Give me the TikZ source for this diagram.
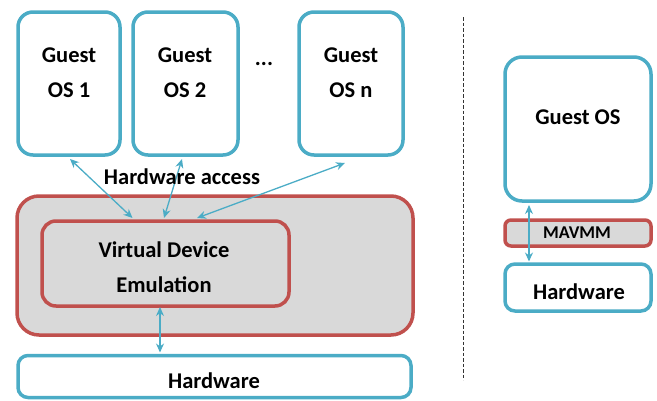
\documentclass[tikz,border=0pt]{standalone}
\usepackage{fontspec}
\setmainfont{Carlito}
\usetikzlibrary{arrows.meta,calc}
\definecolor{cblue}{HTML}{4BACC6}
\definecolor{cred}{HTML}{C0504D}
\definecolor{cgrey}{HTML}{D9D9D9}
\tikzset{
  bluebox/.style={draw=cblue,line width=3.5pt,fill=white,inner sep=0pt,outer sep=0pt},
  redbox/.style={draw=cred,line width=3.5pt,fill=cgrey,inner sep=0pt,outer sep=0pt},
  lbl/.style={font=\bfseries\fontsize{22.5}{35}\selectfont,align=center,inner sep=0pt},
  smalllbl/.style={font=\bfseries\fontsize{18}{20}\selectfont,inner sep=0pt},
  conn/.style={draw=cblue,line width=1.3pt,{Stealth[length=9pt,width=8pt]}-{Stealth[length=9pt,width=8pt]}},
}
\begin{document}
\begin{tikzpicture}[x=1pt,y=-1pt]
\useasboundingbox (0,0) rectangle (657,400);
% left side
\node[bluebox,rounded corners=15pt,minimum width=102pt,minimum height=143pt] (g1) at (69,83.5) {};
\node[bluebox,rounded corners=15pt,minimum width=105pt,minimum height=143pt] (g2) at (185.5,83.5) {};
\node[bluebox,rounded corners=15pt,minimum width=104pt,minimum height=143pt] (gn) at (351,83.5) {};
\node[lbl] (t1) at (69,73) {Guest\\OS 1};
\node[lbl] (t2) at (185,73) {Guest\\OS 2};
\node[lbl] (tn) at (351,73) {Guest\\OS n};
\node[lbl] (dots) at (264,64) {...};
\node[redbox,rounded corners=22pt,minimum width=396pt,minimum height=139pt] (hyp) at (215,265.5) {};
\node[redbox,rounded corners=14pt,minimum width=247pt,minimum height=85pt] (vde) at (165.5,263.5) {};
\node[lbl] (tvde) at (164,267) {Virtual Device\\Emulation};
\node[bluebox,rounded corners=10pt,minimum width=393pt,minimum height=42pt] (hw) at (214.5,376.5) {};
\node[lbl] (thw) at (214,381) {Hardware};
\draw[conn] ($(g1.south)+(1,4)$) -- ($(vde.north)+(-33,-3)$);
\draw[conn] ($(g2.south)+(-3.5,4)$) -- ($(vde.north)+(-1.5,-3)$);
\draw[conn] ($(gn.south)+(-6,8)$) -- ($(vde.north)+(31.5,-3)$);
\draw[conn] ($(vde.south)+(-5.5,1)$) -- ($(hw.north)+(-54.5,-3)$);
\node[lbl] (acc) at (182,177) {Hardware access};
% separator
\coordinate (sepa) at (463,17);
\coordinate (sepb) at (463,380);
\draw[black!80,line width=1pt,dash pattern=on 3.5pt off 2pt] (sepa) -- (sepb);
% right side
\node[bluebox,rounded corners=17pt,minimum width=146pt,minimum height=144pt] (gos) at (578,129) {};
\node[lbl] (tgos) at (578,117) {Guest OS};
\node[redbox,rounded corners=6pt,minimum width=146pt,minimum height=26pt] (mav) at (578,233) {};
\node[smalllbl] (tmav) at (577,233) {MAVMM};
\node[bluebox,rounded corners=10pt,minimum width=146pt,minimum height=47pt] (hwr) at (578,287.5) {};
\node[lbl] (thwr) at (579,292) {Hardware};
\draw[conn] ($(gos.south)+(-49,4)$) -- ($(hwr.north)+(-49,-2.5)$);
\end{tikzpicture}
\end{document}
